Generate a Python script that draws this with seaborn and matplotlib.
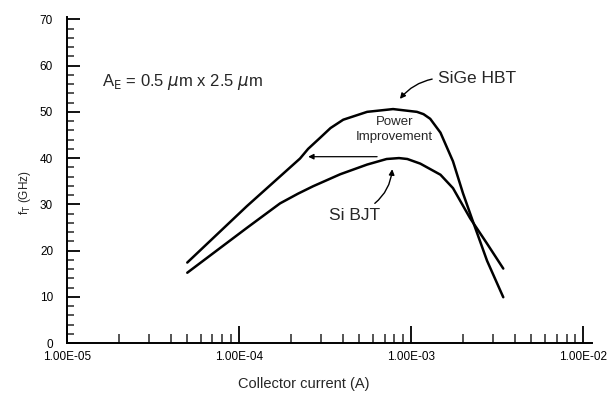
import matplotlib

matplotlib.use("Agg")
import matplotlib.pyplot as plt
import numpy as np
import pandas as pd
import seaborn as sns
from matplotlib.ticker import FixedLocator, FuncFormatter, LogLocator, MultipleLocator

# values
sige_current = [5e-5, 1.11e-4, 2.26e-4, 2.52e-4, 2.96e-4, 3.4e-4, 4.03e-4, 5.55e-4,
                7.85e-4, 1.08e-3, 1.18e-3, 1.29e-3, 1.48e-3, 1.75e-3, 2.0e-3,
                2.29e-3, 2.76e-3, 3.43e-3]
sige_ft = [17.4, 29.6, 39.9, 42.0, 44.4, 46.5, 48.3, 50.0,
           50.6, 50.0, 49.5, 48.5, 45.5, 39.3, 32.4,
           26.2, 17.8, 9.9]
si_current = [5e-5, 1.11e-4, 1.73e-4, 2.2e-4, 2.69e-4, 3.87e-4, 5.55e-4, 7.2e-4,
              8.5e-4, 9.5e-4, 1.13e-3, 1.48e-3, 1.75e-3, 2.2e-3, 2.76e-3, 3.43e-3]
si_ft = [15.2, 24.9, 30.2, 32.3, 33.9, 36.5, 38.6, 39.8,
         40.0, 39.8, 38.8, 36.4, 33.5, 27.0, 21.5, 16.1]
x_ticks = [1e-5, 1e-4, 1e-3, 1e-2]
x_tick_labels = ["1.00E-05", "1.00E-04", "1.00E-03", "1.00E-02"]
y_ticks = [0, 10, 20, 30, 40, 50, 60, 70]

sns.set_style("ticks")
plt.rcParams["font.family"] = ["Liberation Sans", "DejaVu Sans"]

df = pd.concat(
    [
        pd.DataFrame({"current": sige_current, "ft": sige_ft, "device": "SiGe HBT"}),
        pd.DataFrame({"current": si_current, "ft": si_ft, "device": "Si BJT"}),
    ],
    ignore_index=True,
)

fig = plt.figure(figsize=(6.1, 3.97), dpi=100)
ax = fig.add_axes([0.1098, 0.136, 0.861, 0.821])

sns.lineplot(
    data=df,
    x="current",
    y="ft",
    units="device",
    estimator=None,
    sort=False,
    color="black",
    linewidth=1.8,
    ax=ax,
    legend=False,
)

ax.set_xscale("log")
ax.set_xlim(1e-5, 1.127e-2)
ax.set_ylim(0, 70.5)
sns.despine(ax=ax)
for side in ("left", "bottom"):
    ax.spines[side].set_linewidth(1.4)
    ax.spines[side].set_color("black")

ax.xaxis.set_major_locator(FixedLocator(x_ticks))
ax.xaxis.set_major_formatter(
    FuncFormatter(lambda v, p: x_tick_labels[x_ticks.index(v)] if v in x_ticks else "")
)
ax.xaxis.set_minor_locator(LogLocator(base=10, subs=np.arange(2, 10)))
ax.yaxis.set_major_locator(FixedLocator(y_ticks))
ax.yaxis.set_minor_locator(MultipleLocator(2))

ax.tick_params(axis="x", which="major", direction="in", length=12, width=1.3,
               labelsize=8.5, pad=5.5, colors="black")
ax.tick_params(axis="x", which="minor", direction="in", length=6.5, width=1.1)
ax.tick_params(axis="y", which="major", direction="in", length=9, width=1.3,
               labelsize=8.5, pad=10, colors="black")
ax.tick_params(axis="y", which="minor", direction="in", length=5, width=1.1)

ax.set_xlabel("Collector current (A)", fontsize=10.5)
ax.xaxis.set_label_coords(0.45, -0.104)
ax.set_ylabel(r"f$_\mathrm{T}$ (GHz)", fontsize=8.5)
ax.yaxis.set_label_coords(-0.065, 0.46)

ax.text(0.066, 0.8, r"A$_\mathrm{E}$ = 0.5 $\mu$m x 2.5 $\mu$m", transform=ax.transAxes,
        fontsize=12, va="center", ha="left")
ax.annotate("SiGe HBT", xy=(8.6e-4, 52.8), xytext=(1.435e-3, 57.3),
            fontsize=12.5, va="center", ha="left",
            arrowprops=dict(arrowstyle="-|>", color="black", lw=1, relpos=(0, 0.5),
                            shrinkA=2, shrinkB=0,
                            connectionstyle="arc3,rad=0.2", mutation_scale=8))
ax.text(8.0e-4, 46.2, "Power\nImprovement", fontsize=9.5, ha="center", va="center",
        linespacing=1.35)
ax.annotate("", xy=(2.52e-4, 40.3), xytext=(6.34e-4, 40.3),
            arrowprops=dict(arrowstyle="-|>", color="black", lw=0.9,
                            shrinkA=0, shrinkB=0, mutation_scale=8))
ax.annotate("Si BJT", xy=(7.76e-4, 37.6), xytext=(4.72e-4, 27.5),
            fontsize=12.5, va="center", ha="center",
            arrowprops=dict(arrowstyle="-|>", color="black", lw=1, relpos=(0.75, 1.0),
                            shrinkA=2, shrinkB=0,
                            connectionstyle="arc3,rad=0.25", mutation_scale=8))

fig.savefig("out.png", dpi=100)
plt.close()
